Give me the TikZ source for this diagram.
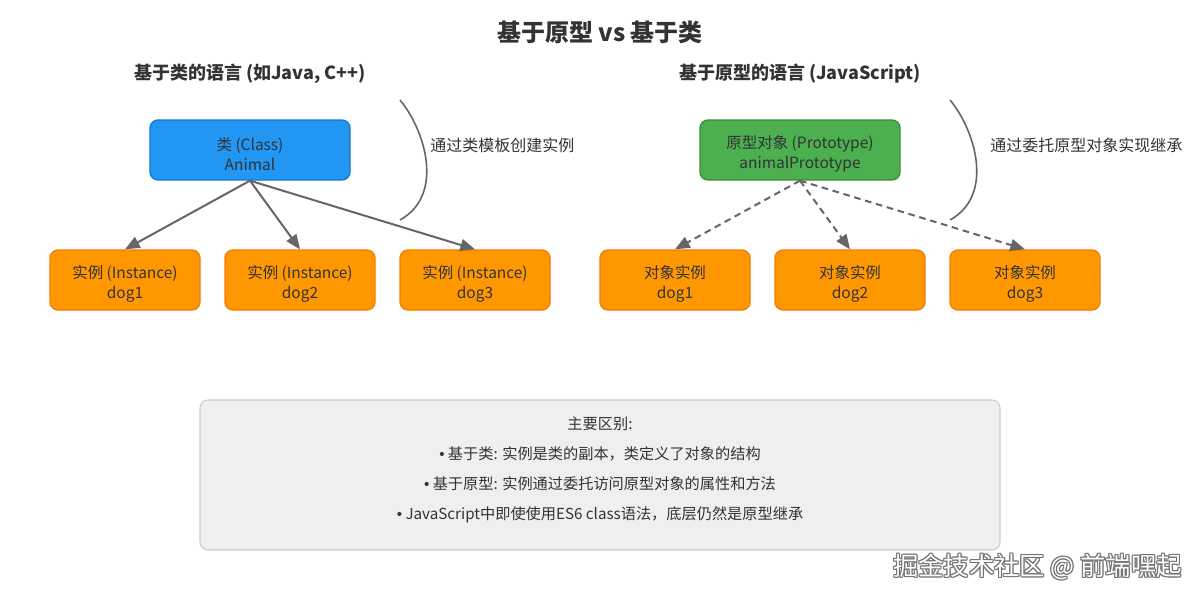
\documentclass[tikz,border=0pt]{standalone}
\usepackage{fontspec}
\setmainfont{Noto Sans CJK SC}
\newfontfamily\bulletfont{Liberation Sans}
\usetikzlibrary{arrows.meta}
\definecolor{txt}{HTML}{333333}
\definecolor{lin}{HTML}{666666}
\definecolor{bluef}{HTML}{2196F3}
\definecolor{blued}{HTML}{1976D2}
\definecolor{greenf}{HTML}{4CAF50}
\definecolor{greend}{HTML}{388E3C}
\definecolor{orangef}{HTML}{FF9800}
\definecolor{oranged}{HTML}{F57C00}
\definecolor{sumf}{HTML}{EFEFEF}
\definecolor{sumd}{HTML}{CCCCCC}
\newcommand{\bul}{{\bulletfont •}\ }
\tikzset{
  box/.style={rounded corners=6pt, line width=1pt, align=center, text=txt,
    font=\fontsize{11.6}{15}\selectfont, inner sep=0pt},
  bigbox/.style={box, minimum width=150pt, minimum height=45pt},
  smallbox/.style={box, minimum width=112.5pt, minimum height=45pt},
  clsbox/.style={bigbox, fill=bluef, draw=blued},
  protobox/.style={bigbox, fill=greenf, draw=greend},
  instbox/.style={smallbox, fill=orangef, draw=oranged},
  conn/.style={draw=lin, line width=1.5pt, -{Triangle[length=11pt,width=9pt]}},
  dconn/.style={conn, dash pattern=on 5pt off 3.5pt},
  brace/.style={draw=lin, line width=1.2pt},
  note/.style={text=txt, font=\fontsize{12}{14}\selectfont, anchor=west, inner sep=0pt},
  sumline/.style={text=txt, font=\fontsize{11.4}{13}\selectfont, inner sep=0pt},
  heading/.style={text=txt, font=\bfseries\fontsize{13.5}{16}\selectfont, inner sep=0pt}
}
\begin{document}
\begin{tikzpicture}[x=0.75pt,y=-0.75pt]
\useasboundingbox[fill=white] (0,0) rectangle (1200,600);
\node[text=txt, font=\bfseries\fontsize{18}{22}\selectfont, inner sep=0pt] (title) at (600,32) {基于原型 vs 基于类};
\node[heading] (h1) at (250,74) {基于类的语言 (如Java, C++)};
\node[heading] (h2) at (800,74) {基于原型的语言 (JavaScript)};

% left
\node[clsbox] (cls) at (250,150) {};
\node[text=txt, font=\fontsize{11.6}{15}\selectfont, align=center, inner sep=0pt] (clst) at (250,154) {类 (Class)\\Animal};
\node[instbox] (i1) at (125,280) {};
\node[instbox] (i2) at (300,280) {};
\node[instbox] (i3) at (475,280) {};
\foreach \n/\x/\t in {i1/125/dog1,i2/300/dog2,i3/475/dog3}{
  \node[text=txt, font=\fontsize{11.6}{15}\selectfont, align=center, inner sep=0pt] (\n t) at (\x,284) {实例 (Instance)\\\t};
}
\draw[conn] (cls.south) -- (i1.north);
\draw[conn] (cls.south) -- (i2.north);
\draw[conn] (cls.south) -- (i3.north);
\coordinate (b1s) at (400,100);
\coordinate (b1e) at (400,220);
\draw[brace] (b1s) .. controls (425,130) and (445,195) .. (b1e);
\node[note] (n1) at (430,145) {通过类模板创建实例};

% right
\node[protobox] (proto) at (800,150) {};
\node[text=txt, font=\fontsize{11.6}{15}\selectfont, align=center, inner sep=0pt] (protot) at (800,154) {原型对象 (Prototype)\\animalPrototype};
\node[instbox] (o1) at (675,280) {};
\node[instbox] (o2) at (850,280) {};
\node[instbox] (o3) at (1025,280) {};
\foreach \n/\x/\t in {o1/675/dog1,o2/850/dog2,o3/1025/dog3}{
  \node[text=txt, font=\fontsize{11.6}{15}\selectfont, align=center, inner sep=0pt] (\n t) at (\x,284) {对象实例\\\t};
}
\draw[dconn] (proto.south) -- (o1.north);
\draw[dconn] (proto.south) -- (o2.north);
\draw[dconn] (proto.south) -- (o3.north);
\coordinate (b2s) at (950,100);
\coordinate (b2e) at (950,220);
\draw[brace] (b2s) .. controls (975,130) and (995,195) .. (b2e);
\node[note] (n2) at (990,145) {通过委托原型对象实现继承};

% summary
\node[draw=sumd, fill=sumf, rounded corners=6pt, line width=0.8pt, minimum width=600pt, minimum height=112.5pt, inner sep=0pt] (sum) at (600,475) {};
\node[sumline] (s0) at (600,424) {主要区别:};
\node[sumline] (s1) at (600,454) {\bul 基于类: 实例是类的副本，类定义了对象的结构};
\node[sumline] (s2) at (600,484) {\bul 基于原型: 实例通过委托访问原型对象的属性和方法};
\node[sumline] (s3) at (600,515) {\bul JavaScript中即使使用ES6 class语法，底层仍然是原型继承};

% watermark
\foreach \dx/\dy in {-1/0,1/0,0/-1,0/1,-1/-1,1/1,-1/1,1/-1}{
  \node[anchor=east, text=black!55, font=\fontsize{19}{22}\selectfont, inner sep=0pt] at (1182+\dx,567+\dy) {掘金技术社区 @ 前端嘿起};
}
\node[anchor=east, text=white, font=\fontsize{19}{22}\selectfont, inner sep=0pt] (wm) at (1182,567) {掘金技术社区 @ 前端嘿起};
\end{tikzpicture}
\end{document}
